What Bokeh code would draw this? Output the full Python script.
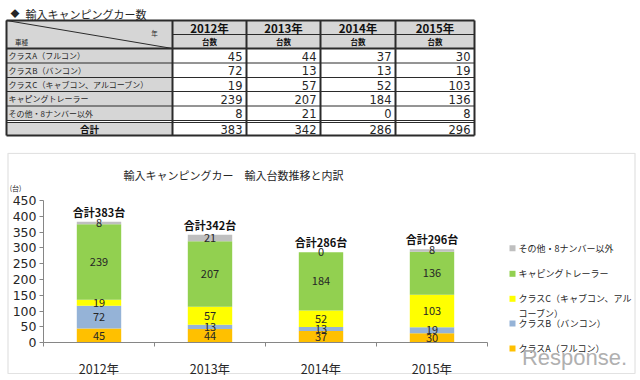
import numpy as np
from bokeh.plotting import figure
from bokeh.models import Range1d, LinearAxis, FixedTicker, ColumnDataSource, Label, BoxAnnotation
from bokeh.layouts import column
from bokeh.embed import file_html
from bokeh.resources import INLINE
from bokeh.core.properties import value

# ---------------- data ----------------
years = ["2012年", "2013年", "2014年", "2015年"]
series_names = ["クラスA（フルコン）", "クラスB（バンコン）", "クラスC（キャブコン、アルコーブン）",
                "キャピングトレーラー", "その他・8ナンバー以外"]
class_a = [45, 44, 37, 30]
class_b = [72, 13, 13, 19]
class_c = [19, 57, 52, 103]
trailer = [239, 207, 184, 136]
other = [8, 21, 0, 8]
totals = [383, 342, 286, 296]
y_ticks = [0, 50, 100, 150, 200, 250, 300, 350, 400, 450]
table_title = "輸入キャンピングカー数"
chart_title = "輸入キャンピングカー　輸入台数推移と内訳"
unit_label = "(台)"
col_sub = "台数"
total_name = "合計"

colors = ["#FFC000", "#95B3D7", "#FFFF00", "#92D050", "#BFBFBF"]
FONT = "Noto Sans CJK JP"
NUMFONT = "DejaVu Sans"
TXT = "#262626"

W, H_TOP, H_BOT = 640, 152, 228

# ---------------- table figure ----------------
t = figure(width=W, height=H_TOP, x_range=Range1d(0, W), y_range=Range1d(H_TOP, 0),
           output_backend="svg", toolbar_location=None, x_axis_location=None,
           y_axis_location=None, min_border=0, outline_line_color=None, title=None)
for g in t.grid:
    g.visible = False

CX = [6, 172, 246, 320, 395, 474]          # column edges
RH = [20, 34, 48]                           # header rows
RD = [48, 62.5, 77, 91, 105.5, 120]         # data rows
RT = [122, 135]                             # total row
GREY = "#D6D6D6"

t.quad(left=[CX[0], CX[0], CX[0]], right=[CX[-1], CX[1], CX[1]],
       top=[RH[0], RD[0], RT[0]], bottom=[RH[-1], RD[-1], RT[1]],
       fill_color=GREY, line_color=None)

LC = "#2b2b2b"
x0s, y0s, x1s, y1s = [], [], [], []
for cx in CX:
    x0s.append(cx); y0s.append(RH[0]); x1s.append(cx); y1s.append(RT[1])
for yy in [RH[0], RH[-1], RT[1]]:
    x0s.append(CX[0]); y0s.append(yy); x1s.append(CX[-1]); y1s.append(yy)
t.segment(x0s, y0s, x1s, y1s, line_color=LC, line_width=2)
x0s, y0s, x1s, y1s = [], [], [], []
x0s.append(CX[1]); y0s.append(RH[1]); x1s.append(CX[-1]); y1s.append(RH[1])
for yy in RD[1:-1]:
    x0s.append(CX[0]); y0s.append(yy); x1s.append(CX[-1]); y1s.append(yy)
for yy in [RD[-1], RT[0]]:
    x0s.append(CX[0]); y0s.append(yy); x1s.append(CX[-1]); y1s.append(yy)
x0s.append(CX[0]); y0s.append(RH[0]); x1s.append(CX[1]); y1s.append(RH[-1])
t.segment(x0s, y0s, x1s, y1s, line_color=LC, line_width=1)

t.text(x=[10], y=[13], text=["◆"], text_font=value(FONT), text_font_size="9px",
       text_baseline="middle", text_align="left", text_color=TXT)
t.text(x=[25], y=[13], text=[table_title], text_font=value(FONT), text_font_size="11px",
       text_baseline="middle", text_align="left", text_color=TXT)
t.text(x=[154], y=[32], text=["年"], text_font=value(FONT), text_font_size="6.5px",
       text_baseline="middle", text_align="center", text_color=TXT)
t.text(x=[21], y=[41], text=["車種"], text_font=value(FONT), text_font_size="6.5px",
       text_baseline="middle", text_align="center", text_color=TXT)

ccx = [(CX[i] + CX[i + 1]) / 2 for i in range(1, len(CX) - 1)]
t.text(x=ccx, y=[(RH[0] + RH[1]) / 2 + 0.5] * len(years), text=years, text_font=value(FONT),
       text_font_size="11.5px", text_font_style="bold", text_baseline="middle",
       text_align="center", text_color="#111")
t.text(x=ccx, y=[(RH[1] + RH[2]) / 2] * len(years), text=[col_sub] * len(years),
       text_font=value(FONT), text_font_size="7.5px", text_font_style="bold",
       text_baseline="middle", text_align="center", text_color="#111")

row_cy = [(RD[i] + RD[i + 1]) / 2 for i in range(len(RD) - 1)]
t.text(x=[8] * len(series_names), y=row_cy, text=series_names, text_font=value(FONT),
       text_font_size="8px", text_baseline="middle", text_align="left", text_color=TXT)

rows = [class_a, class_b, class_c, trailer, other]
vx, vy, vt = [], [], []
for r, vals in enumerate(rows):
    for c, v in enumerate(vals):
        vx.append(CX[c + 2] - 4); vy.append(row_cy[r] + 0.5); vt.append(str(v))
for c, v in enumerate(totals):
    vx.append(CX[c + 2] - 4); vy.append((RT[0] + RT[1]) / 2 + 0.5); vt.append(str(v))
t.text(x=vx, y=vy, text=vt, text_font=value(NUMFONT), text_font_size="11.5px",
       text_baseline="middle", text_align="right", text_color=TXT)
t.text(x=[(CX[0] + CX[1]) / 2], y=[(RT[0] + RT[1]) / 2], text=[total_name],
       text_font=value(FONT), text_font_size="9.5px", text_font_style="bold",
       text_baseline="middle", text_align="center", text_color="#111")

# ---------------- chart figure ----------------
X0, CW, Y0, K = 43.0, 111.0, 342.3, 142.3 / 450.0
def dx(px):
    return (px - X0) / CW
def dy(py):
    return (Y0 - py) / K

p = figure(width=W, height=H_BOT, x_range=Range1d(dx(0), dx(W)),
           y_range=Range1d(dy(H_TOP + H_BOT), dy(H_TOP)), output_backend="svg",
           toolbar_location=None, x_axis_location=None, y_axis_location=None,
           min_border=0, title=None, outline_line_color=None)
for g in p.grid:
    g.visible = False

p.add_layout(BoxAnnotation(left=dx(7.5), right=dx(634.5), top=dy(152.8), bottom=dy(373),
                           fill_color=None, fill_alpha=0, line_color="#A0A0A0",
                           line_width=1.2, level="underlay"))

n = len(years)
xs = np.arange(n) + 0.5
src = ColumnDataSource(dict(x=xs, A=class_a, B=class_b, C=class_c, T=trailer, O=other))
p.vbar_stack(["A", "B", "C", "T", "O"], x="x", width=0.4, color=colors, source=src,
             line_color=None)

stack = np.array([class_a, class_b, class_c, trailer, other], dtype=float)
mids = np.cumsum(stack, axis=0) - stack / 2
lx = np.tile(xs, stack.shape[0])
p.text(x=lx, y=mids.flatten(), text=[str(int(v)) for v in stack.flatten()],
       text_font=value(FONT), text_font_size="11px", text_baseline="middle",
       text_align="center", text_color=TXT)
p.text(x=xs, y=totals, text=[f"{total_name}{v}台" for v in totals], text_font=value(FONT),
       text_font_size="11px", text_font_style="bold", text_baseline="bottom",
       text_align="center", text_color="#111", y_offset=-2)

# axes
yaxis = LinearAxis(fixed_location=0, bounds=(0, y_ticks[-1]),
                   ticker=FixedTicker(ticks=y_ticks, minor_ticks=[]))
yaxis.axis_line_color = "#868686"
yaxis.major_tick_line_color = "#868686"
yaxis.major_tick_out = 4
yaxis.major_tick_in = 0
yaxis.minor_tick_line_color = None
yaxis.major_label_standoff = 3
yaxis.major_label_text_font = NUMFONT
yaxis.major_label_text_font_size = "12.5px"
yaxis.major_label_text_color = TXT
p.add_layout(yaxis, "left")

xaxis = LinearAxis(fixed_location=0, bounds=(0, n),
                   ticker=FixedTicker(ticks=list(range(n + 1)), minor_ticks=[]))
xaxis.axis_line_color = "#868686"
xaxis.major_tick_line_color = "#868686"
xaxis.major_tick_out = 4
xaxis.major_tick_in = 0
xaxis.minor_tick_line_color = None
xaxis.major_label_text_alpha = 0
p.add_layout(xaxis, "below")

xaxis2 = LinearAxis(fixed_location=0, ticker=FixedTicker(ticks=list(xs), minor_ticks=[]),
                    major_label_overrides={float(x): yr for x, yr in zip(xs, years)})
xaxis2.axis_line_color = None
xaxis2.major_tick_line_color = None
xaxis2.minor_tick_line_color = None
xaxis2.major_label_standoff = 10
xaxis2.major_label_text_font = FONT
xaxis2.major_label_text_font_size = "12.5px"
xaxis2.major_label_text_color = TXT
p.add_layout(xaxis2, "below")

p.add_layout(Label(x=dx(233), y=dy(174), text=chart_title, text_font=FONT,
                   text_font_size="11px", text_align="center", text_baseline="middle",
                   text_color=TXT))
p.add_layout(Label(x=dx(15), y=dy(187), text=unit_label, text_font=FONT,
                   text_font_size="7px", text_align="center", text_baseline="middle",
                   text_color=TXT))

leg_py = [348, 323, 298.3, 273.3, 247.7]
p.rect(x=[dx(512)] * 5, y=[dy(v) for v in leg_py], width=6, height=6,
       width_units="screen", height_units="screen", fill_color=colors, line_color=None)
leg_text = list(series_names)
leg_text[2] = series_names[2][:13]
p.text(x=[dx(518)] * 5, y=[dy(v) for v in leg_py], text=leg_text, text_font=value(FONT),
       text_font_size="9px", text_baseline="middle", text_align="left", text_color=TXT)
p.text(x=[dx(518)], y=[dy(313)], text=[series_names[2][13:]], text_font=value(FONT),
       text_font_size="9px", text_baseline="middle", text_align="left", text_color=TXT)

p.add_layout(Label(x=dx(574), y=dy(357), text="Response.", text_font="Liberation Sans",
                   text_font_size="22px", text_align="center", text_baseline="middle",
                   text_color="#B0B0B0"))

layout = column(t, p, spacing=0)
open("out.html", "w").write(file_html(layout, INLINE))
